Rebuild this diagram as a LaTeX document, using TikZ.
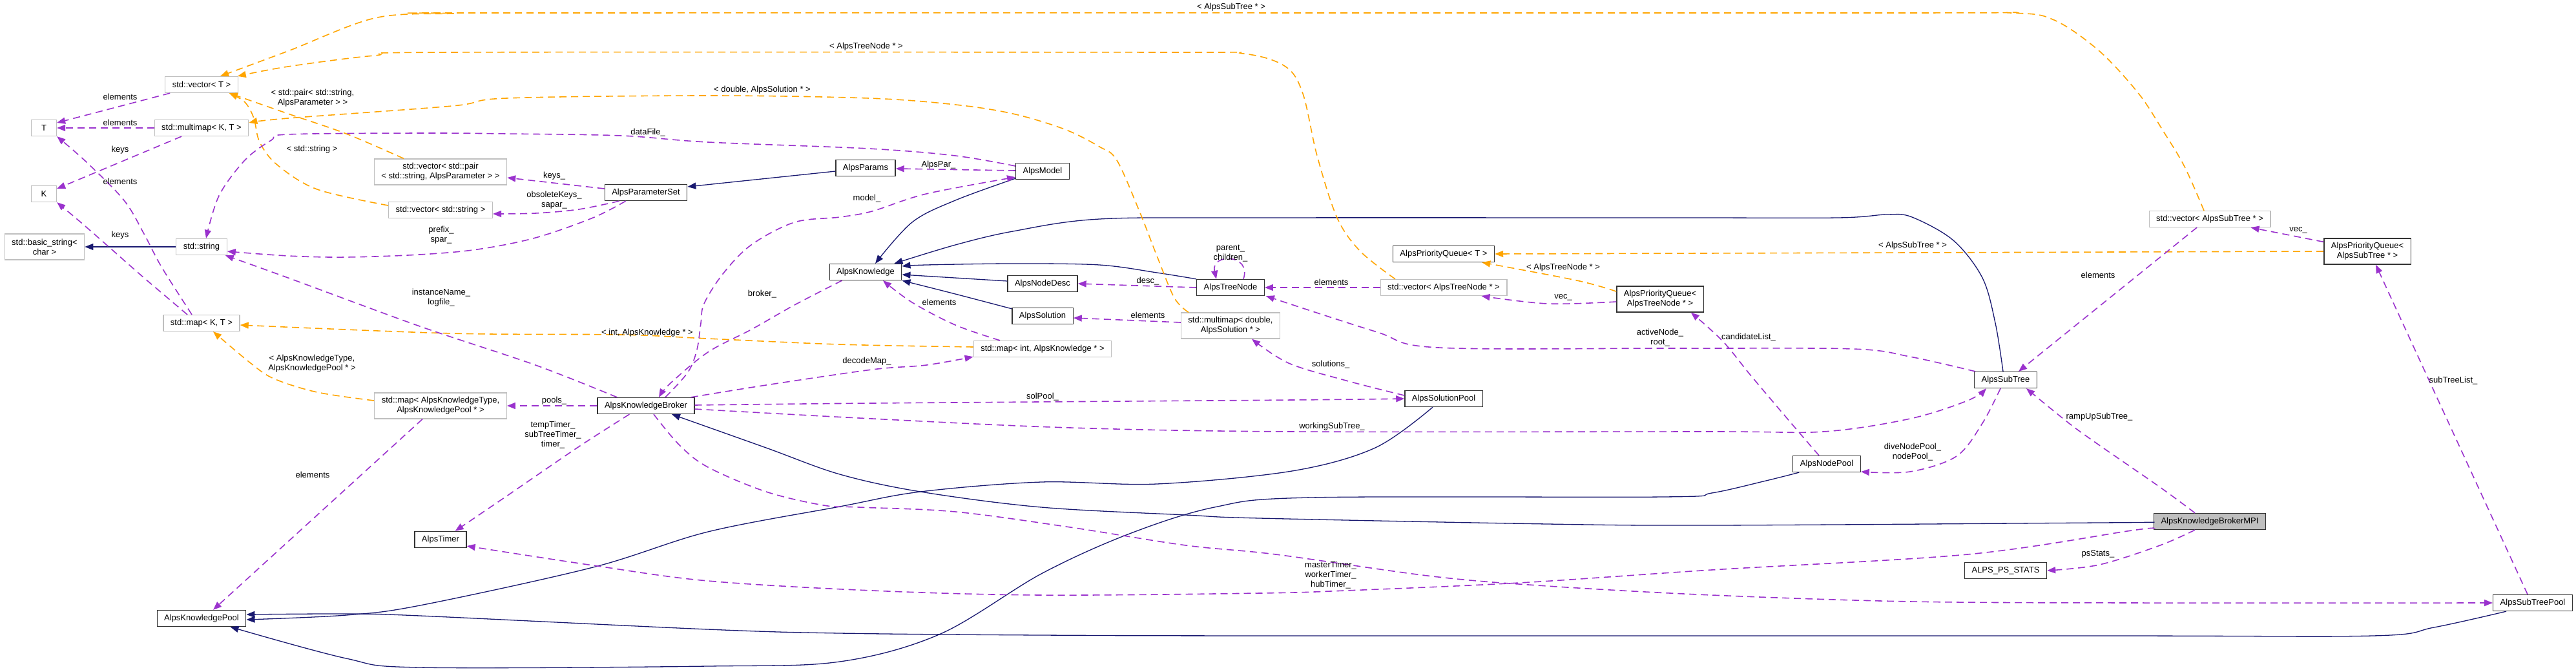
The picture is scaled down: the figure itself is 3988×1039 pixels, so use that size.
\documentclass[tikz,border=0pt]{standalone}
\usepackage{fontspec}
\setmainfont{Liberation Sans}
\usetikzlibrary{arrows.meta,calc}
\definecolor{navy}{HTML}{191970}
\definecolor{purp}{HTML}{9A32CD}
\definecolor{orng}{HTML}{FFA500}
\definecolor{tgray}{HTML}{BFBFBF}
\definecolor{bord}{HTML}{333333}
\begin{document}
\begin{tikzpicture}[x=1pt,y=-1pt,
  every node/.style={font=\fontsize{13}{15}\selectfont},
  cls/.style={draw=bord, line width=1.3pt, fill=white, inner xsep=11pt, inner ysep=0pt, minimum height=25pt, align=center},
  tmpl/.style={cls, draw=tgray},
  two/.style={minimum height=40pt},
  inh/.style={draw=navy, line width=1.3pt, -{Triangle[length=13pt,width=10pt]}},
  use/.style={draw=purp, line width=1.6pt, dash pattern=on 11pt off 7pt, -{Triangle[length=13pt,width=10pt]}},
  tpl/.style={draw=orng, line width=1.6pt, dash pattern=on 11pt off 7pt, -{Triangle[length=13pt,width=10pt]}},
  lbl/.style={align=center, inner sep=0pt}
]
\useasboundingbox (0,0) rectangle (3988,1039);
% ---------- nodes ----------
\node[tmpl] (vecT) at (312,131) {std::vector< T >};
\node[tmpl, minimum width=39pt] (T) at (68,198) {T};
\node[tmpl] (mmKT) at (312,198) {std::multimap< K, T >};
\node[tmpl, minimum width=39pt] (K) at (68,300) {K};
\node[tmpl, two] (bstr) at (69,382) {std::basic\_string<\\char >};
\node[tmpl] (str) at (312,382) {std::string};
\node[tmpl] (mapKT) at (312,500) {std::map< K, T >};
\node[tmpl, two] (vecpair) at (682,266) {std::vector< std::pair\\< std::string, AlpsParameter > >};
\node[tmpl] (vecstr) at (682,325) {std::vector< std::string >};
\node[tmpl, two] (mapAKT) at (682,628) {std::map< AlpsKnowledgeType,\\AlpsKnowledgePool * >};
\node[cls] (akp) at (312,957) {AlpsKnowledgePool};
\node[cls] (timer) at (682,835) {AlpsTimer};
\node[cls] (aps) at (1000,298) {AlpsParameterSet};
\node[cls] (params) at (1340,260) {AlpsParams};
\node[cls] (know) at (1340,421) {AlpsKnowledge};
\node[cls] (akb) at (1000,628) {AlpsKnowledgeBroker};
\node[cls] (model) at (1614,265) {AlpsModel};
\node[cls] (ndesc) at (1614,439) {AlpsNodeDesc};
\node[cls] (sol) at (1614,489) {AlpsSolution};
\node[cls] (tnode) at (1905,445) {AlpsTreeNode};
\node[tmpl, two] (mmsol) at (1905,504) {std::multimap< double,\\AlpsSolution * >};
\node[tmpl] (mapint) at (1614,540) {std::map< int, AlpsKnowledge * >};
\node[cls] (pqT) at (2235,393) {AlpsPriorityQueue< T >};
\node[tmpl] (vectn) at (2235,445) {std::vector< AlpsTreeNode * >};
\node[cls, two] (pqtn) at (2570,463) {AlpsPriorityQueue<\\AlpsTreeNode * >};
\node[cls] (solpool) at (2235,617) {AlpsSolutionPool};
\node[cls] (subtree) at (3105,588) {AlpsSubTree};
\node[cls] (nodepool) at (2828,718) {AlpsNodePool};
\node[cls] (psstats) at (3105,883) {ALPS\_PS\_STATS};
\node[tmpl] (vecst) at (3421,339) {std::vector< AlpsSubTree * >};
\node[cls, two] (pqst) at (3665,389) {AlpsPriorityQueue<\\AlpsSubTree * >};
\node[cls, fill=tgray] (mpi) at (3421,807) {AlpsKnowledgeBrokerMPI};
\node[cls] (stpool) at (3921,933) {AlpsSubTreePool};
% ---------- inheritance (navy) ----------
\draw[inh] (str.west) -- (bstr.east);
\draw[inh] ($(params.west)+(0,5)$) -- ($(aps.east)+(0,-9)$);
\draw[inh] plot[smooth,tension=.55] coordinates {($(model.south west)+(0,-2)$) (1479,310) (1412,344) ($(know.north)+(15,0)$)};
\draw[inh] plot[smooth,tension=.55] coordinates {($(subtree.north)+(-4,0)$) (3089,500) (3069,430) (3024,372) (2960,336) (2921,332) (2845,337) (2600,337) (1950,337) (1702,339) (1568,358) (1479,379) ($(know.north east)+(-12,0)$)};
\draw[inh] plot[smooth,tension=.55] coordinates {(tnode.north west) (1791,422) (1702,410) (1568,408) (1434,410) ($(know.east)+(0,-9)$)};
\draw[inh] ($(ndesc.west)+(0,-4)$) -- ($(know.east)+(0,4)$);
\draw[inh] plot[smooth,tension=.55] coordinates {($(sol.north west)+(0,2)$) (1479,455) (know.south east)};
\draw[inh] plot[smooth,tension=.55] coordinates {($(mpi.west)+(0,1)$) (3250,809) (2650,813) (2396,811) (1950,802) (1836,797) (1612,785) (1425,761) (1300,734) (1186,693) ($(akb.south)+(40,0)$)};
\draw[inh] plot[smooth,tension=.55] coordinates {($(solpool.south)+(-17,0)$) (2129,693) (2000,729) (1791,749) (1612,746) (1425,761) (1300,784) (1096,823) (918,878) (650,937) (536,952) ($(akp.east)+(0,2)$)};
\draw[inh] plot[smooth,tension=.55] coordinates {($(nodepool.south west)+(10,0)$) (2734,744) (2650,763) (2575,769) (2030,770) (1880,785) (1746,827) (1612,888) (1456,981) (1300,1024) (1096,1031) (650,1033) (536,1019) ($(akp.south east)+(-25,0)$)};
\draw[inh] plot[smooth,tension=.55] coordinates {($(stpool.south west)+(21,0)$) (3768,971) (3673,984) (3250,984) (2000,984) (1612,983) (1300,980) (1096,974) (650,953) (536,950) ($(akp.east)+(0,-6)$)};
% ---------- template instances (orange) ----------
\draw[tpl] plot[smooth,tension=.55] coordinates {($(vecst.north)+(-9,0)$) (3382,258) (3349,203) (3311,145) (3250,79) (3180,31) (3113,20) (2900,20) (800,20) (700,21) (580,28) (446,79) ($(vecT.north)+(29,0)$)};
\draw[tpl] plot[smooth,tension=.55] coordinates {($(vectn.north)+(-75,0)$) (2106,389) (2070,337) (2039,241) (2017,145) (1990,103) (1925,83) (1800,81) (700,81) (580,86) (446,103) ($(vecT.north east)+(-1,0)$)};
\draw[tpl] plot[smooth,tension=.55] coordinates {($(mmsol.north)+(-65,0)$) (1818,461) (1791,396) (1764,327) (1729,248) (1702,227) (1648,200) (1568,176) (1479,162) (1345,152) (1096,148) (784,152) (700,164) (446,183) ($(mmKT.east)+(0,-8)$)};
\draw[tpl] plot[smooth,tension=.55] coordinates {($(vecpair.north)+(-57,0)$) (536,207) (446,176) ($(vecT.south east)+(-14,0)$)};
\draw[tpl] plot[smooth,tension=.55] coordinates {($(vecstr.west)+(0,-7)$) (491,293) (429,255) (402,220) (393,183) (379,158) ($(vecT.south east)+(-14,0)$)};
\draw[tpl] plot[smooth,tension=.55] coordinates {($(mapint.west)+(0,-3)$) (1300,533) (1095,524) (962,518) (700,516) ($(mapKT.east)+(0,3)$)};
\draw[tpl] plot[smooth,tension=.55] coordinates {($(mapAKT.west)+(0,-8)$) (491,607) (424,586) (388,562) ($(mapKT.south)+(18,0)$)};
\draw[tpl] plot[smooth,tension=.55] coordinates {($(pqtn.west)+(0,-12)$) (2441,434) ($(pqT.south east)+(-20,0)$)};
\draw[tpl] (pqst.west) -- (pqT.east);
% ---------- usage (purple) ----------
\draw[use] ($(vecT.south west)+(8,0)$) -- ($(T.east)+(0,-8)$);
\draw[use] (mmKT.west) -- (T.east);
\draw[use] ($(mmKT.south)+(-31,0)$) -- ($(K.east)+(0,-8)$);
\draw[use] plot[smooth,tension=.55] coordinates {($(mapKT.north)+(-15,0)$) (250,413) (223,362) (192,310) (134,251) (T.south east)};
\draw[use] plot[smooth,tension=.55] coordinates {($(mapKT.north)+(-22,0)$) (223,430) (165,379) (125,344) (K.south east)};
\draw[use] ($(aps.west)+(0,-6)$) -- ($(vecpair.east)+(0,9)$);
\draw[use] plot[smooth,tension=.55] coordinates {($(aps.south west)+(23,0)$) (896,324) (829,330) ($(vecstr.east)+(0,6)$)};
\draw[use] plot[smooth,tension=.55] coordinates {($(aps.south west)+(33,0)$) (918,337) (829,368) (739,386) (650,394) (536,398) (446,396) ($(str.east)+(0,7)$)};
\draw[use] plot[smooth,tension=.55] coordinates {($(model.west)+(0,-8)$) (1479,241) (1345,230) (1096,220) (962,210) (784,207) (650,206) (446,208) (420,217) (379,248) (339,303) ($(str.north)+(7,0)$)};
\draw[use] plot[smooth,tension=.55] coordinates {($(akb.north west)+(31,0)$) (829,565) (650,505) (446,430) ($(str.south east)+(-3,0)$)};
\draw[use] ($(model.west)+(0,-1)$) -- ($(params.east)+(0,1)$);
\draw[use] plot[smooth,tension=.55] coordinates {($(akb.north)+(30,0)$) (1065,576) (1079,541) (1085,500) (1090,470) (1119,424) (1163,379) (1230,344) (1300,336) (1350,327) (1434,300) ($(model.south west)+(0,-4)$)};
\draw[use] plot[smooth,tension=.55] coordinates {($(know.south west)+(20,0)$) (1230,472) (1163,510) (1096,545) (1038,593) ($(akb.north)+(20,0)$)};
\draw[use] plot[smooth,tension=.55] coordinates {($(mapint.north)+(-66,0)$) (1479,503) (1412,468) ($(know.south)+(27,0)$)};
\draw[use] plot[smooth,tension=.55] coordinates {($(akb.north east)+(-6,0)$) (1186,596) (1350,572) (1434,565) ($(mapint.south west)+(0,-1)$)};
\draw[use] (akb.west) -- (mapAKT.east);
\draw[use] plot[smooth,tension=.55] coordinates {($(akb.south west)+(50,0)$) (895,692) (784,768) ($(timer.north east)+(-18,0)$)};
\draw[use] plot[smooth,tension=.55] coordinates {($(mpi.west)+(0,11)$) (3300,821) (3046,858) (2650,882) (2352,902) (2084,914) (1950,918) (1612,921) (1350,914) (1096,899) (918,875) ($(timer.east)+(0,10)$)};
\draw[use] plot[smooth,tension=.55] coordinates {($(akb.east)+(0,-1)$) (1350,624) (2000,619) (solpool.west)};
\draw[use] plot[smooth,tension=.55] coordinates {($(akb.east)+(0,5)$) (1350,648) (1657,662) (2000,668) (2650,668) (2823,668) (2957,648) (3046,620) ($(subtree.south west)+(19,0)$)};
\draw[use] plot[smooth,tension=.55] coordinates {($(akb.south)+(12,0)$) (1052,689) (1096,723) (1186,761) (1275,782) (1330,785) (1479,792) (1657,816) (1836,844) (1975,858) (2218,892) (2396,907) (2650,921) (2957,931) (3300,933) (stpool.west)};
\draw[use] plot[smooth,tension=.55] coordinates {($(solpool.west)+(0,-5)$) (2084,589) (1995,562) ($(mmsol.south)+(33,0)$)};
\draw[use] ($(mmsol.west)+(0,-5)$) -- ($(sol.east)+(0,3)$);
\draw[use] (tnode.west) -- (ndesc.east);
\draw[use] ($(tnode.north)+(20,0)$) .. controls (1938,392) and (1874,392) .. ($(tnode.north)+(-22,0)$);
\draw[use] (vectn.west) -- (tnode.east);
\draw[use] plot[smooth,tension=.55] coordinates {($(pqtn.west)+(0,4)$) (2396,470) ($(vectn.south east)+(-40,0)$)};
\draw[use] plot[smooth,tension=.55] coordinates {($(subtree.north west)+(2,0)$) (2957,552) (2868,540) (2600,539) (2227,538) (2129,513) ($(tnode.south east)+(2,0)$)};
\draw[use] plot[smooth,tension=.55] coordinates {($(nodepool.north)+(-12,0)$) (2779,662) (2712,583) (2667,528) ($(pqtn.south east)+(-20,0)$)};
\draw[use] plot[smooth,tension=.55] coordinates {($(subtree.south)+(-8,0)$) (3069,655) (3029,706) (2957,730) ($(nodepool.east)+(0,12)$)};
\draw[use] ($(vecst.south)+(-20,0)$) -- ($(subtree.north east)+(-29,0)$);
\draw[use] ($(pqst.north west)+(0,6)$) -- ($(vecst.south east)+(-31,0)$);
\draw[use] plot[smooth,tension=.55] coordinates {($(mpi.north)+(-23,0)$) (3344,754) (3250,689) (3203,655) ($(subtree.south east)+(-17,0)$)};
\draw[use] plot[smooth,tension=.55] coordinates {($(mpi.south)+(-23,0)$) (3344,844) (3250,874) (psstats.east)};
\draw[use] ($(stpool.north)+(-8,0)$) -- ($(pqst.south)+(13,0)$);
\draw[use] ($(mapAKT.south)+(-28,0)$) -- ($(akp.north)+(18,0)$);
% ---------- labels ----------
\node[lbl] (l1) at (1906,11) {< AlpsSubTree * >};
\node[lbl] (l2) at (1341,72) {< AlpsTreeNode * >};
\node[lbl] (l3) at (1180,139) {< double, AlpsSolution * >};
\node[lbl] (l4) at (484,152) {< std::pair< std::string,\\AlpsParameter > >};
\node[lbl] (l5) at (483,231) {< std::string >};
\node[lbl] (l6) at (1002,515) {< int, AlpsKnowledge * >};
\node[lbl] (l7) at (483,563) {< AlpsKnowledgeType,\\AlpsKnowledgePool * >};
\node[lbl] (l8) at (2420,414) {< AlpsTreeNode * >};
\node[lbl] (l9) at (2961,380) {< AlpsSubTree * >};
\node[lbl] (l10) at (186,150) {elements};
\node[lbl] (l11) at (186,190) {elements};
\node[lbl] (l12) at (186,232) {keys};
\node[lbl] (l13) at (186,281) {elements};
\node[lbl] (l14) at (186,364) {keys};
\node[lbl] (l15) at (858,272) {keys\_};
\node[lbl] (l16) at (858,310) {obsoleteKeys\_\\sapar\_};
\node[lbl] (l17) at (683,364) {prefix\_\\spar\_};
\node[lbl] (l18) at (1003,205) {dataFile\_};
\node[lbl] (l19) at (683,461) {instanceName\_\\logfile\_};
\node[lbl] (l20) at (1453,255) {AlpsPar\_};
\node[lbl] (l21) at (1342,307) {model\_};
\node[lbl] (l22) at (1180,455) {broker\_};
\node[lbl] (l23) at (1454,468) {elements};
\node[lbl] (l24) at (1342,559) {decodeMap\_};
\node[lbl] (l25) at (858,620) {pools\_};
\node[lbl] (l26) at (856,673) {tempTimer\_\\subTreeTimer\_\\timer\_};
\node[lbl] (l27) at (2060,890) {masterTimer\_\\workerTimer\_\\hubTimer\_};
\node[lbl] (l28) at (1614,614) {solPool\_};
\node[lbl] (l29) at (2062,660) {workingSubTree\_};
\node[lbl] (l30) at (2060,564) {solutions\_};
\node[lbl] (l31) at (1777,488) {elements};
\node[lbl] (l32) at (1777,435) {desc\_};
\node[lbl] (l33) at (1905,392) {parent\_\\children\_};
\node[lbl] (l34) at (2061,437) {elements};
\node[lbl] (l35) at (2420,460) {vec\_};
\node[lbl] (l36) at (2570,523) {activeNode\_\\root\_};
\node[lbl] (l37) at (2707,522) {candidateList\_};
\node[lbl] (l38) at (2961,700) {diveNodePool\_\\nodePool\_};
\node[lbl] (l39) at (3248,426) {elements};
\node[lbl] (l40) at (3558,356) {vec\_};
\node[lbl] (l41) at (3250,645) {rampUpSubTree\_};
\node[lbl] (l42) at (3248,857) {psStats\_};
\node[lbl] (l43) at (3798,589) {subTreeList\_};
\node[lbl] (l44) at (484,735) {elements};
\end{tikzpicture}
\end{document}
